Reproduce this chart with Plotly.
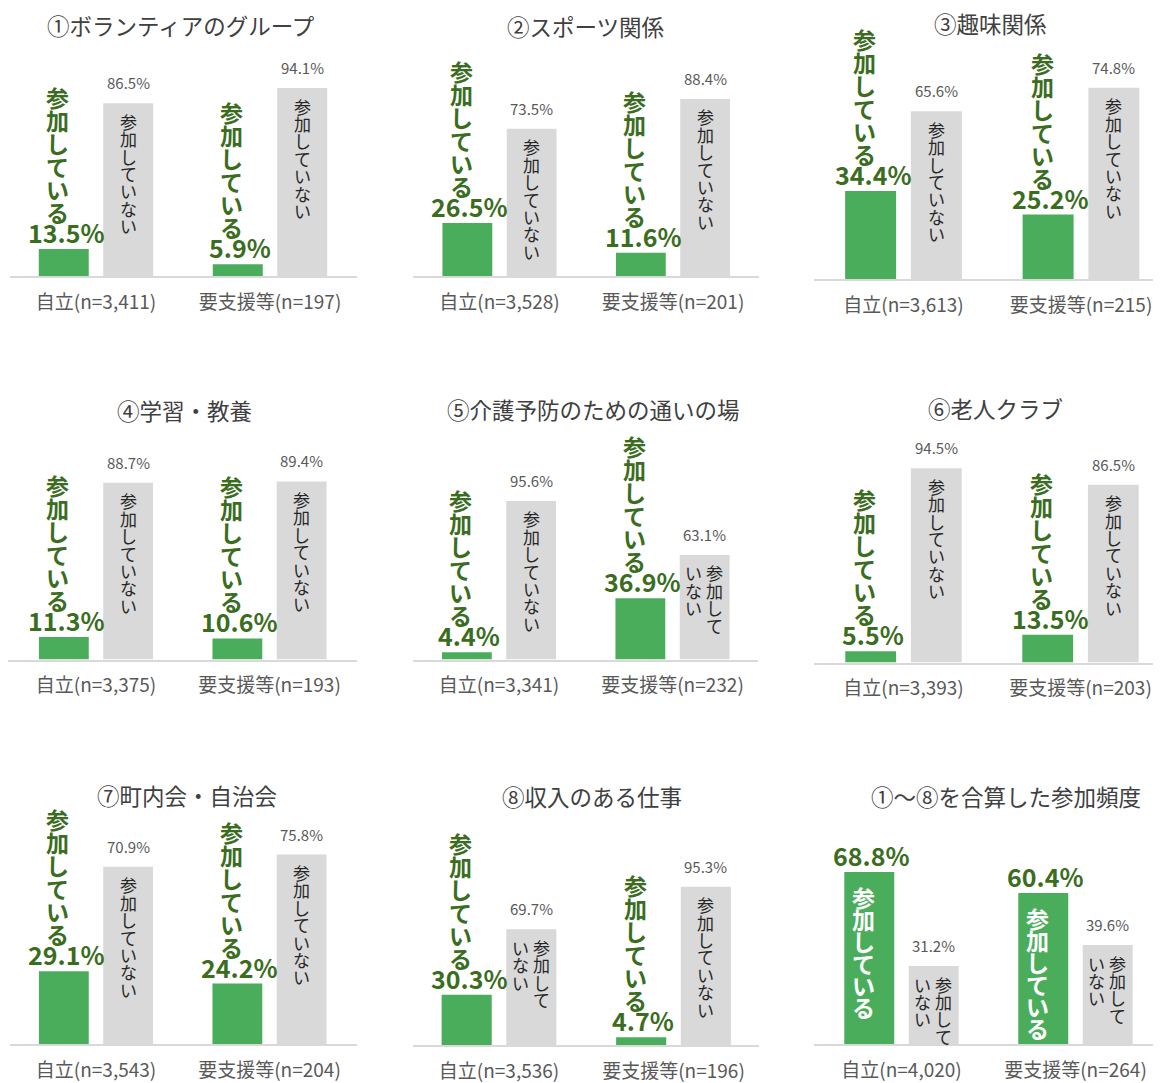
import plotly.graph_objects as go

titles = ["①ボランティアのグループ", "②スポーツ関係", "③趣味関係",
          "④学習・教養", "⑤介護予防のための通いの場", "⑥老人クラブ",
          "⑦町内会・自治会", "⑧収入のある仕事", "①～⑧を合算した参加頻度"]
n_jiritsu = ["3,411", "3,528", "3,613", "3,375", "3,341", "3,393", "3,543", "3,536", "4,020"]
n_yoshien = ["197", "201", "215", "193", "232", "203", "204", "196", "264"]
joined = [[13.5, 5.9], [26.5, 11.6], [34.4, 25.2],
          [11.3, 10.6], [4.4, 36.9], [5.5, 13.5],
          [29.1, 24.2], [30.3, 4.7], [68.8, 60.4]]
not_joined = [[86.5, 94.1], [73.5, 88.4], [65.6, 74.8],
              [88.7, 89.4], [95.6, 63.1], [94.5, 86.5],
              [70.9, 75.8], [69.7, 95.3], [31.2, 39.6]]

JOIN_LABEL = "参加している"
NOT_LABEL = "参加していない"

# the page has an 8px body margin, so work in page pixels and subtract it
OFF = 8
W, H = 1161 - OFF, 1083 - OFF
PLOT_H = 240
BARGAP, GROUPGAP = 0.259, 0.225

# panel geometry in page pixels: axis span, group centres, baseline, px per percent, title centre
axis_px = [(10, 357), (413, 759), (814, 1161), (8, 357), (413, 758), (814, 1161),
           (10, 357), (413, 759), (814, 1161)]
centre_px = [(96, 270), (499.5, 673), (903.5, 1081), (96, 269.5), (499, 672.5), (903.5, 1080.5),
             (96, 269.5), (499, 673.5), (901.5, 1075.5)]
base_px = [277, 277, 280, 662, 662, 665, 1048, 1049, 1048]
px_per_pct = [2.005, 2.01, 2.565, 2.0, 1.665, 2.063, 2.51, 1.668, 2.51]
title_px = [(181, 25), (585, 26), (991, 23), (184, 411), (593, 410), (995, 409),
            (187, 798), (592, 799), (1006, 799)]

GREEN = "#4aad5b"
GREEN_TXT = "#3a6d1e"
GRAY = "#d9d9d9"
JP = "Noto Sans CJK JP"
NUM = "Liberation Sans Narrow, Noto Sans CJK JP"

fig = go.Figure()
ann = []


def column(chars, xref, yref, cat, y, xshift, top_shift, step, size, color, bold=False):
    # stack characters one under another to imitate vertical writing
    for i, ch in enumerate(chars):
        ann.append(dict(text=ch, x=cat, y=y, xref=xref, yref=yref, xshift=xshift,
                        yshift=top_shift - i * step, showarrow=False,
                        xanchor="center", yanchor="middle",
                        font=dict(family=JP, size=size, color=color,
                                  weight="bold" if bold else "normal")))


for k in range(9):
    s = "" if k == 0 else str(k + 1)
    xref, yref = "x" + s, "y" + s
    cats = [f"自立(n={n_jiritsu[k]})", f"要支援等(n={n_yoshien[k]})"]
    fig.add_trace(go.Bar(x=cats, y=joined[k], xaxis=xref, yaxis=yref,
                         marker=dict(color=GREEN, line_width=0), showlegend=False, hoverinfo="skip"))
    fig.add_trace(go.Bar(x=cats, y=not_joined[k], xaxis=xref, yaxis=yref,
                         marker=dict(color=GRAY, line_width=0), showlegend=False, hoverinfo="skip"))

    l, r = axis_px[k]
    c0, c1 = centre_px[k]
    u = c1 - c0
    b = base_px[k] - OFF
    fig.update_layout(**{
        "xaxis" + s: dict(domain=[max(l - OFF, 0) / W, min(r - OFF, W) / W],
                          range=[(max(l - OFF, 0) + OFF - c0) / u, (min(r - OFF, W) + OFF - c0) / u],
                          type="category", anchor=yref, showline=True, linecolor="#d9d9d9",
                          linewidth=1.5, ticks="outside", ticklen=8, tickcolor="rgba(0,0,0,0)",
                          tickfont=dict(family=NUM, size=19, color="#595959"),
                          showgrid=False, fixedrange=True),
        "yaxis" + s: dict(domain=[1 - b / H, 1 - (b - PLOT_H) / H], range=[0, PLOT_H / px_per_pct[k]],
                          visible=False, anchor=xref, fixedrange=True),
    })

    half = u * (1 - BARGAP) / 4
    for j, cat in enumerate(cats):
        vj, vn = joined[k][j], not_joined[k][j]
        ann.append(dict(text=f"{vj:.1f}%", x=cat, y=vj, xref=xref, yref=yref, xshift=-half + 2,
                        yshift=-3, showarrow=False, yanchor="bottom",
                        font=dict(family=NUM, size=25, color=GREEN_TXT, weight="bold")))
        if vj * px_per_pct[k] > 150:
            column(JOIN_LABEL, xref, yref, cat, vj, -half - 6, -25, 22, 23, "white", True)
        else:
            column(JOIN_LABEL, xref, yref, cat, vj, -half - 6, 37 + 5 * 23, 23, 23, GREEN_TXT, True)

        ann.append(dict(text=f"{vn:.1f}%", x=cat, y=vn, xref=xref, yref=yref, xshift=half,
                        yshift=8, showarrow=False, yanchor="bottom",
                        font=dict(family=NUM, size=15, color="#595959")))
        if vn * px_per_pct[k] >= 140:
            column(NOT_LABEL, xref, yref, cat, vn, half, -18, 17.4, 17, "#262626")
        else:
            column("参加して", xref, yref, cat, vn, half + 10, -18, 17.4, 17, "#262626")
            column("いない", xref, yref, cat, vn, half - 11, -18, 17.4, 17, "#262626")

    tx, ty = title_px[k]
    ann.append(dict(text=titles[k], x=(tx - OFF) / W, y=1 - (ty - OFF) / H, xref="paper", yref="paper",
                    showarrow=False, xanchor="center", yanchor="middle",
                    font=dict(family=JP, size=22.5, color="#404040")))

fig.update_layout(
    width=W, height=H,
    margin=dict(l=0, r=0, t=0, b=0),
    paper_bgcolor="white", plot_bgcolor="white",
    barmode="group", bargap=BARGAP, bargroupgap=GROUPGAP,
    annotations=ann,
)

fig.write_html("out.html")
